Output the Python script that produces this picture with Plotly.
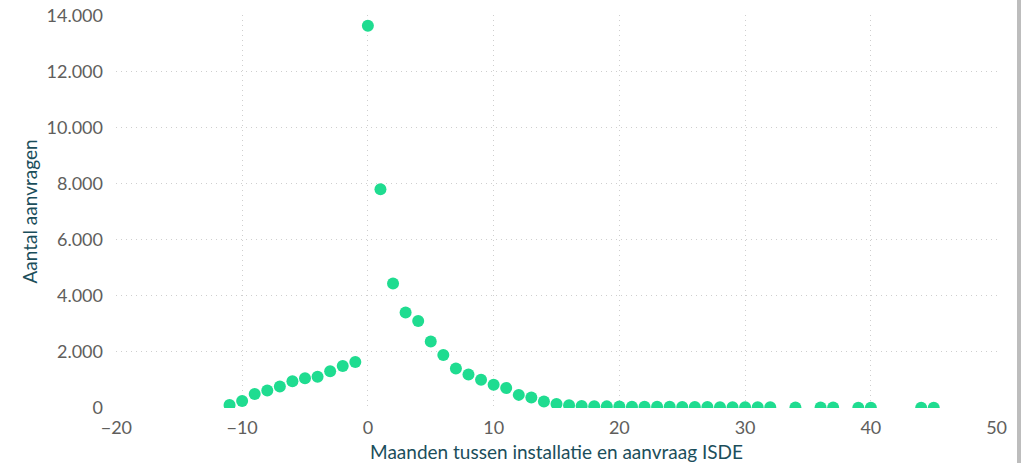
import plotly.graph_objects as go

months = [-11, -10, -9, -8, -7, -6, -5, -4, -3, -2, -1,
          0, 1, 2, 3, 4, 5, 6, 7, 8, 9, 10, 11, 12, 13, 14, 15,
          16, 17, 18, 19, 20, 21, 22, 23, 24, 25, 26, 27, 28, 29, 30, 31, 32,
          34, 36, 37, 39, 40, 44, 45]
aanvragen = [100, 250, 495, 620, 760, 955, 1060, 1115, 1305, 1495, 1640,
             13630, 7800, 4440, 3400, 3100, 2370, 1885, 1410, 1195, 1005, 830, 710, 465, 370, 225, 140,
             95, 70, 60, 55, 50, 45, 42, 40, 38, 35, 33, 30, 28, 26, 25, 22, 20,
             15, 12, 12, 10, 10, 6, 5]

x_ticks = [-20, -10, 0, 10, 20, 30, 40, 50]
y_ticks = [0, 2000, 4000, 6000, 8000, 10000, 12000, 14000]
y_ticktext = ["0", "2.000", "4.000", "6.000", "8.000", "10.000", "12.000", "14.000"]

marker_color = "#1FDC90"
tick_color = "#605E5C"
title_color = "#1B4E5B"
grid_color = "#CFCFCF"
font_family = "Lato, 'Open Sans', sans-serif"

W, H = 1021, 463
L, R, T, B = 116, 24, 15, 55
pw, ph = W - L - R, H - T - B

fig = go.Figure(
    go.Scatter(
        x=months,
        y=aanvragen,
        mode="markers",
        marker=dict(color=marker_color, size=12, line=dict(width=0)),
        cliponaxis=True,
    )
)

# card shadow at right edge
fig.add_shape(
    type="rect", xref="paper", yref="paper",
    x0=(1017 - L) / pw, x1=(1021 - L) / pw,
    y0=-B / ph, y1=1 + T / ph,
    fillcolor="#BDBDBD", line=dict(width=0), layer="above",
)

fig.update_layout(
    width=W,
    height=H,
    margin=dict(l=L, r=R, t=T, b=B, autoexpand=False),
    paper_bgcolor="white",
    plot_bgcolor="white",
    showlegend=False,
    font=dict(family=font_family, size=18, color=tick_color),
)

fig.update_xaxes(
    range=[-20.03, 50.03],
    tickvals=x_ticks,
    showgrid=True,
    gridcolor=grid_color,
    griddash="1px,4px",
    gridwidth=1,
    zeroline=False,
    showline=False,
    ticks="",
    automargin=False,
    ticklabelstandoff=7,
    ticklabeloverflow="allow",
    tickfont=dict(size=18, color=tick_color),
    title=dict(text="Maanden tussen installatie en aanvraag ISDE",
               font=dict(size=19, color=title_color), standoff=9),
)

fig.update_yaxes(
    range=[-3, 14015],
    tickvals=y_ticks,
    ticktext=y_ticktext,
    showgrid=True,
    gridcolor=grid_color,
    griddash="1px,4px",
    gridwidth=1,
    zeroline=False,
    showline=False,
    ticks="",
    automargin=False,
    ticklabelstandoff=12,
    ticklabeloverflow="allow",
    tickfont=dict(size=18, color=tick_color),
    title=dict(text="Aantal aanvragen",
               font=dict(size=19, color=title_color), standoff=3),
)

fig.write_html(
    "out.html",
    config={"displayModeBar": False},
    post_script="document.body.style.margin='0';document.body.style.overflow='hidden';",
)
